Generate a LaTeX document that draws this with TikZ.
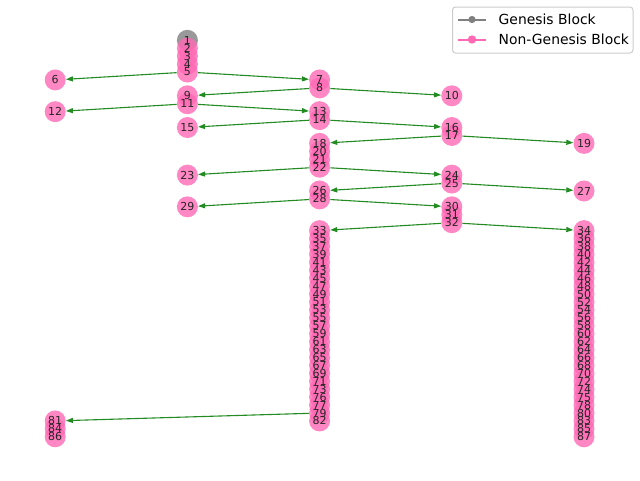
\documentclass[tikz,border=0pt]{standalone}
\usepackage{fontspec}
\setmainfont{DejaVu Sans}
\usetikzlibrary{arrows.meta}
\pgfdeclarelayer{background}
\pgfsetlayers{background,main}
\definecolor{blockpink}{RGB}{255,105,180}
\definecolor{genesisgray}{RGB}{128,128,128}
\definecolor{edgegreen}{RGB}{34,139,34}
\definecolor{legendframe}{RGB}{204,204,204}
\begin{document}
\begin{tikzpicture}[x=1pt,y=-1pt,
  block/.style={circle,inner sep=0pt,minimum size=21pt,fill=blockpink,fill opacity=0.8,draw=none},
  genesis/.style={block,fill=genesisgray},
  blocklabel/.style={inner sep=0pt,font=\fontsize{11}{11}\selectfont,text=black!85},
  link/.style={draw=edgegreen,line width=1.1pt,-{Triangle[length=7pt,width=5pt]}},
  legendtext/.style={anchor=west,inner sep=0pt,font=\fontsize{13.9}{14}\selectfont},
]
\useasboundingbox (0,0) rectangle (640,480);

% columns: 55.2, 187.4, 319.6, 451.8, 584 ; level L sits at y = 40.3 + 7.93 L
\node[genesis] (n1) at (187.4,40.3) {};
\foreach \n/\c/\l in {
  2/187.4/1, 3/187.4/2, 4/187.4/3, 5/187.4/4,
  6/55.2/5, 7/319.6/5, 8/319.6/6, 9/187.4/7, 10/451.8/7,
  11/187.4/8, 12/55.2/9, 13/319.6/9, 14/319.6/10, 15/187.4/11, 16/451.8/11,
  17/451.8/12, 18/319.6/13, 19/584/13, 20/319.6/14, 21/319.6/15, 22/319.6/16,
  23/187.4/17, 24/451.8/17, 25/451.8/18, 26/319.6/19, 27/584/19, 28/319.6/20,
  29/187.4/21, 30/451.8/21, 31/451.8/22, 32/451.8/23} {
  \pgfmathsetmacro\yy{40.3+7.93*\l}
  \node[block] (n\n) at (\c,\yy) {};
}
% the two long chains
\foreach \k in {0,...,20} {
  \pgfmathtruncatemacro\odd{33+2*\k}
  \pgfmathtruncatemacro\even{34+2*\k}
  \pgfmathsetmacro\yy{40.3+7.93*(24+\k)}
  \node[block] (n\odd) at (319.6,\yy) {};
  \node[block] (n\even) at (584,\yy) {};
}
\foreach \n/\c/\l in {
  75/584/45, 76/319.6/45, 77/319.6/46, 78/584/46, 79/319.6/47, 80/584/47,
  81/55.2/48, 82/319.6/48, 83/584/48, 84/55.2/49, 85/584/49, 86/55.2/50, 87/584/50} {
  \pgfmathsetmacro\yy{40.3+7.93*\l}
  \node[block] (n\n) at (\c,\yy) {};
}

% block numbers on top of all circles
\foreach \n in {1,...,87} \node[blocklabel] (t\n) at (n\n) {\n};

% fork links
\begin{pgfonlayer}{background}
\foreach \s/\t in {5/6,5/7,8/9,8/10,11/12,11/13,14/15,14/16,17/18,17/19,
  22/23,22/24,25/26,25/27,28/29,28/30,32/33,32/34,79/81}
  \draw[link] (n\s) -- (n\t);
\end{pgfonlayer}

% legend
\draw[legendframe,line width=1pt,fill=white,fill opacity=0.8,rounded corners=3pt]
  (452.5,7) rectangle (633,53);
\coordinate (ga) at (458,19.5);
\coordinate (gb) at (486,19.5);
\draw[genesisgray,line width=2pt] (ga) -- (gb);
\fill[genesisgray] (472,19.5) circle (3.6);
\node[legendtext] (glabel) at (498.5,19.5) {Genesis Block};
\coordinate (pa) at (458,39.5);
\coordinate (pb) at (486,39.5);
\draw[blockpink,line width=2pt] (pa) -- (pb);
\fill[blockpink] (472,39.5) circle (4.2);
\node[legendtext] (plabel) at (498.5,39.5) {Non-Genesis Block};
\end{tikzpicture}
\end{document}
